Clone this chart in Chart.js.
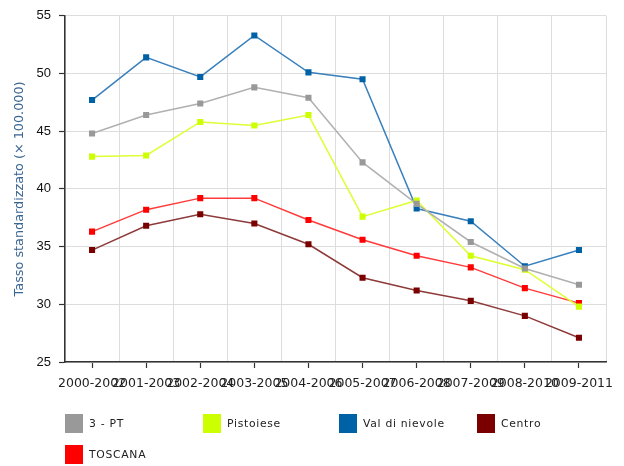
<!DOCTYPE html>
<html>
<head>
<meta charset="utf-8">
<script src="https://cdn.jsdelivr.net/npm/chart.js@4.4.1/dist/chart.umd.min.js"></script>
<style>
  html, body { margin: 0; padding: 0; background: #fff; }
  #wrap { position: relative; width: 624px; height: 466px; }
  #c { position: absolute; left: 0; top: 0; }
  .lg { position: absolute; height: 19px; font-family: "DejaVu Sans", Verdana, sans-serif; font-size: 10.8px; letter-spacing: 0.7px; color: #222; white-space: nowrap; }
  .lg .box { position: absolute; left: 0; top: 0; width: 18px; height: 19px; }
  .lg .txt { position: absolute; left: 24px; top: 2px; line-height: 15px; }
</style>
</head>
<body>
<div id="wrap">
  <canvas id="c" width="624" height="466"></canvas>
</div>
<script>
const categories = ["2000-2002","2001-2003","2002-2004","2003-2005","2004-2006","2005-2007","2006-2008","2007-2009","2008-2010","2009-2011"];
const seriesNames = ["3 - PT", "Pistoiese", "Val di nievole", "Centro", "TOSCANA"];
const pt3 = [44.8, 46.4, 47.4, 48.8, 47.9, 42.3, 38.7, 35.4, 33.1, 31.7];
const pistoiese = [42.8, 42.9, 45.8, 45.5, 46.4, 37.6, 39.0, 34.2, 33.0, 29.8];
const valdinievole = [47.7, 51.4, 49.7, 53.3, 50.1, 49.5, 38.3, 37.2, 33.3, 34.7];
const centro = [34.7, 36.8, 37.8, 37.0, 35.2, 32.3, 31.2, 30.3, 29.0, 27.1];
const toscana = [36.3, 38.2, 39.2, 39.2, 37.3, 35.6, 34.2, 33.2, 31.4, 30.1];
const yTicks = [25, 30, 35, 40, 45, 50, 55];
const yTitle = "Tasso standardizzato (\u00d7 100.000)";

const seriesValues = [pt3, pistoiese, valdinievole, centro, toscana];
const pointColors = ["#999999", "#ccff00", "#0062a6", "#7a0000", "#ff0000"];
const lineColors  = ["#b0b0b0", "#ddff33", "#3a80bd", "#8e3a3a", "#ff3a3a"];

const datasets = seriesNames.map((n, i) => ({
  label: n,
  data: seriesValues[i],
  borderColor: lineColors[i],
  backgroundColor: pointColors[i],
  pointBackgroundColor: pointColors[i],
  pointBorderWidth: 0,
  pointStyle: 'rect',
  pointRadius: 4.3,
  pointHoverRadius: 4.3,
  borderWidth: 1.5,
  tension: 0,
  xAxisID: 'x'
}));

new Chart(document.getElementById('c'), {
  type: 'line',
  data: { labels: categories, datasets },
  options: {
    responsive: false,
    animation: false,
    events: [],
    layout: { padding: { top: 13, right: 18, bottom: 0, left: 0 } },
    plugins: { legend: { display: false }, tooltip: { enabled: false } },
    scales: {
      x: {
        type: 'category',
        position: 'bottom',
        offset: true,
        grid: { display: true, drawOnChartArea: false, offset: false, tickLength: 6, tickColor: '#333', tickWidth: 1.2 },
        border: { display: true, color: '#333', width: 1.5 },
        ticks: { color: '#222', font: { family: '"DejaVu Sans", Verdana, sans-serif', size: 12.5 }, maxRotation: 0, minRotation: 0, autoSkip: false, padding: 8 },
        afterFit: (s) => { s.height = 104; }
      },
      x2: {
        type: 'category',
        position: 'bottom',
        labels: categories,
        offset: true,
        grid: { display: true, drawOnChartArea: true, offset: true, drawTicks: false, color: '#dddddd', lineWidth: 1 },
        border: { display: false },
        ticks: { display: false },
        afterFit: (s) => { s.height = 0; }
      },
      y: {
        min: 25, max: 55,
        afterBuildTicks: (s) => { s.ticks = yTicks.map(v => ({ value: v })); },
        grid: { color: '#dddddd', tickLength: 6, tickColor: '#333', tickWidth: 1.2 },
        border: { display: true, color: '#333', width: 1.5 },
        ticks: { color: '#111', font: { family: '"Liberation Sans", Arial, sans-serif', size: 13 }, padding: 8 },
        title: { display: true, text: yTitle, color: '#3a6592', font: { family: '"DejaVu Sans", Verdana, sans-serif', size: 12.8 }, padding: { top: 12, bottom: 4 } },
        afterFit: (s) => { s.width = 65; }
      }
    }
  }
});

// HTML legend built from the series names/colors
const wrap = document.getElementById('wrap');
const colLeft = [65, 203, 339, 477];
const rowTop = [414, 445];
seriesNames.forEach((n, i) => {
  const d = document.createElement('div');
  d.className = 'lg';
  d.style.left = colLeft[i % 4] + 'px';
  d.style.top = rowTop[Math.floor(i / 4)] + 'px';
  const b = document.createElement('div');
  b.className = 'box';
  b.style.background = pointColors[i];
  const t = document.createElement('div');
  t.className = 'txt';
  t.textContent = n;
  d.appendChild(b); d.appendChild(t);
  wrap.appendChild(d);
});
</script>
</body>
</html>
